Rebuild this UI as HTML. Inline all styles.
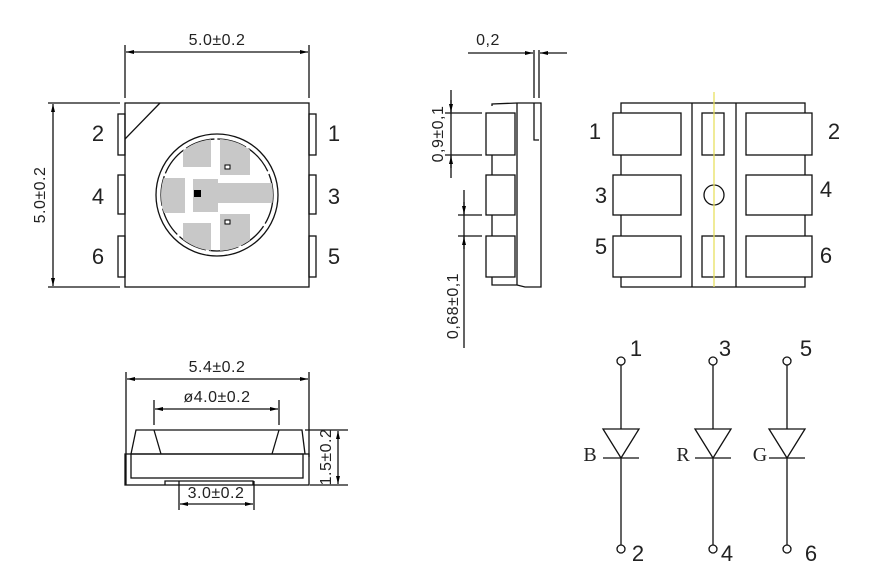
<!DOCTYPE html>
<html><head><meta charset="utf-8"><style>
html,body{margin:0;padding:0;background:#fff;}
svg{display:block;}
text{font-family:"Liberation Sans",sans-serif;fill:#222;}
.d{font-size:16px;letter-spacing:0.5px;}
.b{font-size:22px;}
.s{font-family:"Liberation Serif",serif;font-size:20px;}
</style></head><body>
<svg width="880" height="582" viewBox="0 0 880 582" xmlns="http://www.w3.org/2000/svg">
<defs>
<clipPath id="cc"><circle cx="217" cy="195" r="56"/></clipPath>
<marker id="a" markerWidth="8" markerHeight="4" refX="8" refY="2" orient="auto-start-reverse" markerUnits="userSpaceOnUse"><path d="M0,0L8,2L0,4z" fill="#000"/></marker>
</defs>
<g stroke="#111" stroke-width="1.3" fill="none">
<rect x="125" y="103" width="184" height="184"/>
<line x1="160" y1="103" x2="125" y2="139"/>
<rect x="118" y="114" width="7" height="41"/><rect x="118" y="175" width="7" height="39"/><rect x="118" y="236" width="7" height="41"/>
<rect x="309" y="114" width="7" height="41"/><rect x="309" y="175" width="7" height="39"/><rect x="309" y="236" width="7" height="41"/>
<line x1="125" y1="45" x2="125" y2="98"/><line x1="309" y1="45" x2="309" y2="98"/>
<line x1="126" y1="52" x2="308" y2="52" marker-start="url(#a)" marker-end="url(#a)"/>
<line x1="48" y1="103" x2="120" y2="103"/><line x1="48" y1="287" x2="120" y2="287"/>
<line x1="53" y1="104" x2="53" y2="286" marker-start="url(#a)" marker-end="url(#a)"/>
<circle cx="217" cy="195" r="61"/>
<circle cx="217" cy="195" r="56" stroke-dasharray="30 3"/>
</g>
<g clip-path="url(#cc)" fill="#c8c8c8">
<rect x="183" y="138" width="28" height="29"/>
<rect x="220" y="138" width="30" height="37"/>
<rect x="193" y="179" width="25" height="33"/>
<rect x="218" y="183" width="56" height="20"/>
<rect x="158" y="178" width="27" height="35"/>
<rect x="183" y="223" width="28" height="30"/>
<rect x="220" y="214" width="30" height="39"/>
</g>
<rect x="194" y="190" width="7" height="7" fill="#000"/>
<rect x="225" y="165" width="5" height="4" fill="#fff" stroke="#000" stroke-width="1"/>
<rect x="225" y="220" width="5" height="4" fill="#fff" stroke="#000" stroke-width="1"/>
<text class="d" x="217" y="45" text-anchor="middle">5.0±0.2</text>
<text class="d" x="0" y="0" text-anchor="middle" transform="translate(45,195) rotate(-90)">5.0±0.2</text>
<text class="b" x="98" y="141" text-anchor="middle">2</text>
<text class="b" x="98" y="204" text-anchor="middle">4</text>
<text class="b" x="98" y="264" text-anchor="middle">6</text>
<text class="b" x="334" y="141" text-anchor="middle">1</text>
<text class="b" x="334" y="204" text-anchor="middle">3</text>
<text class="b" x="334" y="264" text-anchor="middle">5</text>

<g stroke="#111" stroke-width="1.3" fill="none">
<polyline points="492,106 492,104 517,103 525,103 541,103 541,287 525,287 517,285 492,285 492,277"/>
<line x1="517" y1="103" x2="517" y2="285"/>
<polyline points="534,103 534,140 539,140"/>
<line x1="492" y1="155" x2="492" y2="175"/><line x1="492" y1="215" x2="492" y2="236"/>
<rect x="486" y="113" width="29" height="42"/><rect x="486" y="175" width="29" height="40"/><rect x="486" y="236" width="29" height="41"/>
<line x1="534" y1="50" x2="534" y2="98"/><line x1="539" y1="50" x2="539" y2="98"/>
<line x1="468" y1="53" x2="533" y2="53" marker-end="url(#a)"/><line x1="567" y1="53" x2="540" y2="53" marker-end="url(#a)"/>
<line x1="445" y1="113" x2="482" y2="113"/><line x1="445" y1="155" x2="482" y2="155"/>
<line x1="451" y1="90" x2="451" y2="178"/>
<line x1="451" y1="100" x2="451" y2="112" marker-end="url(#a)"/><line x1="451" y1="168" x2="451" y2="156" marker-end="url(#a)"/>
<line x1="458" y1="215" x2="482" y2="215"/><line x1="458" y1="236" x2="482" y2="236"/>
<line x1="464" y1="190" x2="464" y2="348"/>
<line x1="464" y1="202" x2="464" y2="214" marker-end="url(#a)"/><line x1="464" y1="249" x2="464" y2="237" marker-end="url(#a)"/>
</g>
<text class="d" x="488" y="45" text-anchor="middle">0,2</text>
<text class="d" x="0" y="0" text-anchor="middle" transform="translate(443,134) rotate(-90)">0,9±0,1</text>
<text class="d" x="0" y="0" text-anchor="middle" transform="translate(458,306) rotate(-90)">0,68±0,1</text>

<g stroke="#111" stroke-width="1.3" fill="#fff">
<rect x="621" y="103" width="184" height="184"/>
<line x1="692" y1="103" x2="692" y2="287"/><line x1="736" y1="103" x2="736" y2="287"/>
<rect x="613" y="113" width="68" height="42"/><rect x="613" y="175" width="68" height="40"/><rect x="613" y="236" width="68" height="41"/>
<rect x="746" y="113" width="66" height="42"/><rect x="746" y="175" width="66" height="40"/><rect x="746" y="236" width="66" height="41"/>
<rect x="702" y="113" width="22" height="42"/><rect x="702" y="236" width="22" height="41"/>
<circle cx="714" cy="195" r="10" fill="none"/>
</g>
<line x1="714" y1="92" x2="714" y2="287" stroke="#e8e060" stroke-width="1.3"/>
<text class="b" x="595" y="139" text-anchor="middle">1</text>
<text class="b" x="601" y="203" text-anchor="middle">3</text>
<text class="b" x="601" y="254" text-anchor="middle">5</text>
<text class="b" x="834" y="139" text-anchor="middle">2</text>
<text class="b" x="826" y="197" text-anchor="middle">4</text>
<text class="b" x="826" y="263" text-anchor="middle">6</text>

<g stroke="#111" stroke-width="1.3" fill="none">
<line x1="126" y1="372" x2="126" y2="485"/><line x1="309" y1="372" x2="309" y2="457"/>
<line x1="127" y1="379" x2="308" y2="379" marker-start="url(#a)" marker-end="url(#a)"/>
<line x1="154" y1="400" x2="154" y2="425"/><line x1="279" y1="400" x2="279" y2="425"/>
<line x1="155" y1="409" x2="278" y2="409" marker-start="url(#a)" marker-end="url(#a)"/>
<polyline points="131,454 136,430 302,430 305,454"/>
<line x1="154" y1="430" x2="161" y2="454"/><line x1="279" y1="430" x2="272" y2="454"/>
<rect x="125" y="454" width="184" height="31"/>
<rect x="131" y="454" width="172" height="24"/>
<polyline points="165,485 165,481 253,481 253,485"/>
<line x1="179" y1="481" x2="179" y2="510"/><line x1="254" y1="481" x2="254" y2="510"/>
<line x1="180" y1="504" x2="253" y2="504" marker-start="url(#a)" marker-end="url(#a)"/>
<line x1="305" y1="430" x2="348" y2="430"/><line x1="310" y1="485" x2="348" y2="485"/>
<line x1="338" y1="431" x2="338" y2="484" marker-start="url(#a)" marker-end="url(#a)"/>
</g>
<text class="d" x="217" y="372" text-anchor="middle">5.4±0.2</text>
<text class="d" x="217" y="402" text-anchor="middle">ø4.0±0.2</text>
<text class="d" x="216" y="498" text-anchor="middle">3.0±0.2</text>
<text class="d" x="0" y="0" text-anchor="middle" transform="translate(331,457) rotate(-90)">1.5±0.2</text>

<g stroke="#111" stroke-width="1.3" fill="none">
<g transform="translate(621,0)">
<circle cx="0" cy="361" r="4"/><line x1="0" y1="365" x2="0" y2="429"/>
<polygon points="-18,429 18,429 0,458"/><line x1="-18" y1="458" x2="18" y2="458"/>
<line x1="0" y1="458" x2="0" y2="545"/><circle cx="0" cy="549" r="4"/>
</g>
<g transform="translate(713,0)">
<circle cx="0" cy="361" r="4"/><line x1="0" y1="365" x2="0" y2="429"/>
<polygon points="-18,429 18,429 0,458"/><line x1="-18" y1="458" x2="18" y2="458"/>
<line x1="0" y1="458" x2="0" y2="545"/><circle cx="0" cy="549" r="4"/>
</g>
<g transform="translate(787,0)">
<circle cx="0" cy="361" r="4"/><line x1="0" y1="365" x2="0" y2="429"/>
<polygon points="-18,429 18,429 0,458"/><line x1="-18" y1="458" x2="18" y2="458"/>
<line x1="0" y1="458" x2="0" y2="545"/><circle cx="0" cy="549" r="4"/>
</g>
</g>
<text class="b" x="636" y="356" text-anchor="middle">1</text>
<text class="b" x="725" y="356" text-anchor="middle">3</text>
<text class="b" x="806" y="356" text-anchor="middle">5</text>
<text class="b" x="638" y="561" text-anchor="middle">2</text>
<text class="b" x="727" y="561" text-anchor="middle">4</text>
<text class="b" x="811" y="561" text-anchor="middle">6</text>
<text class="s" x="590" y="461" text-anchor="middle">B</text>
<text class="s" x="683" y="461" text-anchor="middle">R</text>
<text class="s" x="760" y="461" text-anchor="middle">G</text>
</svg>
</body></html>
